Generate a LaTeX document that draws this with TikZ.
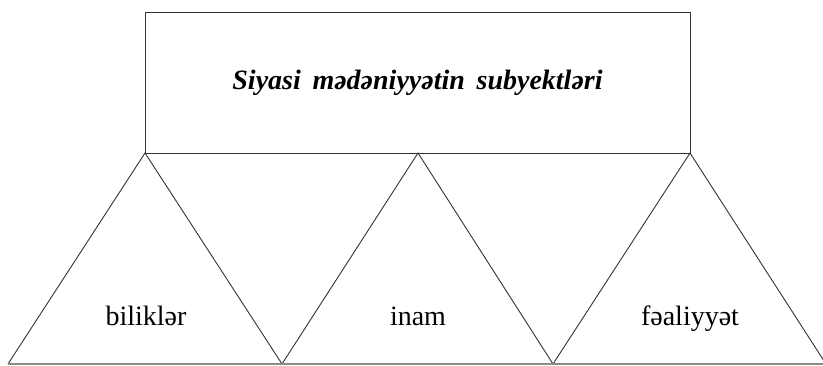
\documentclass[tikz,border=0pt]{standalone}
\usepackage{fontspec}
\setmainfont{Liberation Serif}
\begin{document}
\begin{tikzpicture}[x=1pt,y=-1pt,
  edge/.style={draw=black!80, line width=0.9pt, line join=miter},
  baseline/.style={draw=black!45, line width=1.2pt},
  lbl/.style={font=\fontsize{28}{32}\selectfont, inner sep=0pt}]
\useasboundingbox (0,0) rectangle (823,366);
\node[edge, minimum width=545pt, minimum height=141pt, inner sep=0pt,
  font=\fontsize{28}{32}\selectfont\bfseries\itshape] (title) at (417.5,82.5) {Siyasi\, mədəniyyətin\, subyektləri};
\coordinate (a1) at (145,153);
\coordinate (a2) at (418,153);
\coordinate (a3) at (690,153);
\coordinate (b0) at (8,364);
\coordinate (b1) at (282,364);
\coordinate (b2) at (553,364);
\coordinate (b3) at (826,364);
\draw[edge] (b0) -- (a1) -- (b1) -- (a2) -- (b2) -- (a3) -- (b3);
\draw[baseline] (b0) -- (823,364);
\node[lbl, anchor=base] (t1) at (146,326) {biliklər};
\node[lbl, anchor=base] (t2) at (418,326) {inam};
\node[lbl, anchor=base] (t3) at (690,326) {fəaliyyət};
\end{tikzpicture}
\end{document}
